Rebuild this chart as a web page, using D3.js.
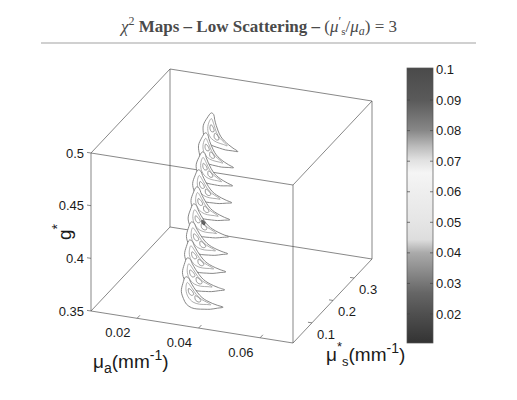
<!DOCTYPE html>
<html>
<head>
<meta charset="utf-8">
<script src="https://cdnjs.cloudflare.com/ajax/libs/d3/7.8.5/d3.min.js"></script>
<style>
  body { margin: 0; background: #fff; }
  svg text { font-family: "Liberation Sans", Arial, Helvetica, sans-serif; fill: #1a1a1a; }
  text.title { font-family: "Liberation Serif", "DejaVu Serif", serif; }
</style>
</head>
<body>
<div id="chart"></div>
<script>
// axis ranges and ticks
const muaDomain = [0.005, 0.0707];
const musDomain = [0.01, 0.385];
const gDomain = [0.35, 0.5];
const muaTicks = [0.02, 0.04, 0.06];
const musTicks = [0.1, 0.2, 0.3];
const gTicks = [0.35, 0.4, 0.45, 0.5];

// colorbar
const cbDomain = [0.0105, 0.1005];
const cbTicks = [0.02, 0.03, 0.04, 0.05, 0.06, 0.07, 0.08, 0.09, 0.1];
const cbStopValues = [0.0105, 0.0203, 0.0269, 0.0334, 0.04, 0.0443, 0.0508, 0.0597, 0.0662, 0.0705, 0.0748, 0.08, 0.09, 0.1005];
const cbStopGrays  = [0x33, 0x50, 0x66, 0x88, 0xaa, 0xdd, 0xe6, 0xee, 0xf5, 0xe0, 0xbb, 0x88, 0x5a, 0x4a];

// contour slices (constant g), top to bottom
const sliceG   = [0.5, 0.4833, 0.4667, 0.45, 0.4333, 0.4167, 0.4, 0.3833, 0.3667, 0.35];
const tipAMua  = [0.0284, 0.0273, 0.0269, 0.0258, 0.0252, 0.0242, 0.0237, 0.0233, 0.0228, 0.0227];
const tipAMus  = [0.240, 0.227, 0.219, 0.215, 0.216, 0.216, 0.213, 0.210, 0.207, 0.201];
const tipBMua  = [0.0462, 0.0446, 0.0445, 0.0441, 0.0434, 0.0429, 0.0425, 0.0421, 0.0419, 0.0414];
const tipBMus  = [0.106, 0.109, 0.106, 0.108, 0.109, 0.110, 0.112, 0.109, 0.106, 0.106];
const minSlice = 5; // slice holding the chi2 minimum

// crescent contour levels, in local (u along tips, v across) units
const outerContour = [[0, 0], [0.04, 0.14], [0.12, 0.29], [0.25, 0.38], [0.37, 0.43], [0.5, 0.42],
  [0.6, 0.37], [0.72, 0.28], [0.82, 0.2], [0.92, 0.09], [1, 0], [0.88, 0.045], [0.775, 0.08],
  [0.65, 0.11], [0.535, 0.12], [0.4, 0.1], [0.276, 0.066], [0.15, 0.02], [0.06, -0.02]];
const middleContour = [[0.1, 0.07], [0.17, 0.2], [0.3, 0.29], [0.45, 0.31], [0.58, 0.26],
  [0.7, 0.17], [0.77, 0.12], [0.68, 0.13], [0.55, 0.155], [0.4, 0.145], [0.25, 0.1]];
const innerContours = [
  [[0.2, 0.15], [0.25, 0.21], [0.33, 0.225], [0.36, 0.18], [0.29, 0.145]],
  [[0.4, 0.18], [0.46, 0.245], [0.54, 0.235], [0.56, 0.19], [0.48, 0.165]]
];
const minContour = [[0.36, 0.13], [0.4, 0.17], [0.46, 0.165], [0.45, 0.125], [0.39, 0.112]];

const W = 517, H = 400;
const svg = d3.select("#chart").append("svg").attr("width", W).attr("height", H);

// 3D box projection: origin and screen vectors of the three axes
const origin = [91, 311];
const vecA = [202, 32], vecS = [79, -84], vecZ = [0, -158];
const aScale = d3.scaleLinear().domain(muaDomain).range([0, 1]);
const sScale = d3.scaleLinear().domain(musDomain).range([0, 1]);
const zScale = d3.scaleLinear().domain(gDomain).range([0, 1]);
function project(mua, mus, g) {
  const a = aScale(mua), s = sScale(mus), z = zScale(g);
  return [origin[0] + a * vecA[0] + s * vecS[0] + z * vecZ[0],
          origin[1] + a * vecA[1] + s * vecS[1] + z * vecZ[1]];
}

// box edges
const boxG = svg.append("g").attr("stroke", "#555").attr("stroke-width", 0.7).attr("fill", "none");
const ends = [0, 1];
const corner = (i, j, k) => project(muaDomain[i], musDomain[j], gDomain[k]);
const edges = [];
ends.forEach(j => ends.forEach(k => edges.push([corner(0, j, k), corner(1, j, k)])));
ends.forEach(i => ends.forEach(k => edges.push([corner(i, 0, k), corner(i, 1, k)])));
ends.forEach(i => ends.forEach(j => edges.push([corner(i, j, 0), corner(i, j, 1)])));
boxG.selectAll("line").data(edges).join("line")
  .attr("x1", d => d[0][0]).attr("y1", d => d[0][1])
  .attr("x2", d => d[1][0]).attr("y2", d => d[1][1]);

// ticks and tick labels
const tickG = svg.append("g");
gTicks.forEach(t => {
  const p = project(muaDomain[0], musDomain[0], t);
  tickG.append("line").attr("x1", p[0]).attr("y1", p[1]).attr("x2", p[0] - 4).attr("y2", p[1] - 0.6)
    .attr("stroke", "#555").attr("stroke-width", 0.7);
  tickG.append("text").attr("x", p[0] - 7).attr("y", p[1] + 4.6).attr("text-anchor", "end")
    .attr("font-size", 13).text(t);
});
muaTicks.forEach(t => {
  const p = project(t, musDomain[0], gDomain[0]);
  tickG.append("line").attr("x1", p[0]).attr("y1", p[1]).attr("x2", p[0] + 2.8).attr("y2", p[1] - 3)
    .attr("stroke", "#555").attr("stroke-width", 0.7);
  tickG.append("text").attr("x", p[0] - 19.3).attr("y", p[1] + 18.8).attr("text-anchor", "middle")
    .attr("font-size", 13).text(t);
});
musTicks.forEach(t => {
  const p = project(muaDomain[1], t, gDomain[0]);
  tickG.append("line").attr("x1", p[0]).attr("y1", p[1]).attr("x2", p[0] - 4).attr("y2", p[1] - 0.6)
    .attr("stroke", "#555").attr("stroke-width", 0.7);
  tickG.append("text").attr("x", p[0] + 14).attr("y", p[1] + 15.8).attr("text-anchor", "middle")
    .attr("font-size", 13).text(t);
});

// axis titles
const gl = svg.append("text").attr("transform", "translate(71,240) rotate(-90)").attr("font-size", 19);
gl.append("tspan").text("g");
gl.append("tspan").attr("font-size", 14).attr("dy", -9).text("*");

const al = svg.append("text").attr("x", 93).attr("y", 368).attr("font-size", 19);
al.append("tspan").text("μ");
al.append("tspan").attr("font-size", 14).attr("dy", 5).text("a");
al.append("tspan").attr("dy", -5).text("(mm");
al.append("tspan").attr("font-size", 14).attr("dy", -8).text("-1");
al.append("tspan").attr("dy", 8).text(")");

const sl = svg.append("text").attr("x", 326).attr("y", 361).attr("font-size", 19);
sl.append("tspan").text("μ");
sl.append("tspan").attr("font-size", 13).attr("dy", -10).text("*");
sl.append("tspan").attr("font-size", 13).attr("dy", 15).text("s");
sl.append("tspan").attr("dy", -5).text("(mm");
sl.append("tspan").attr("font-size", 14).attr("dy", -8).text("-1");
sl.append("tspan").attr("dy", 8).text(")");

// contour slices
const contourLine = d3.line().curve(d3.curveCatmullRomClosed.alpha(0.5));
const slicesG = svg.append("g").attr("fill", "none");
sliceG.forEach((g, i) => {
  const pA = project(tipAMua[i], tipAMus[i], g);
  const pB = project(tipBMua[i], tipBMus[i], g);
  const dx = pB[0] - pA[0], dy = pB[1] - pA[1];
  const toScreen = pts => pts.map(([u, v]) => [pA[0] + u * dx - v * dy, pA[1] + u * dy + v * dx]);
  const grp = slicesG.append("g");
  grp.append("path").attr("d", contourLine(toScreen(outerContour))).attr("fill", "#fff")
    .attr("stroke", "#7a7a7a").attr("stroke-width", 0.9);
  grp.append("path").attr("d", contourLine(toScreen(middleContour)))
    .attr("stroke", "#939393").attr("stroke-width", 0.75);
  innerContours.forEach(c => {
    grp.append("path").attr("d", contourLine(toScreen(c)))
      .attr("stroke", "#707070").attr("stroke-width", 0.7);
  });
  if (i === minSlice) {
    grp.append("path").attr("d", contourLine(toScreen(minContour)))
      .attr("fill", "#666").attr("stroke", "#444").attr("stroke-width", 0.7);
  }
});

// colorbar
const cbX = 407, cbW = 26;
const cbScale = d3.scaleLinear().domain(cbDomain).range([343, 68]);
const grad = svg.append("defs").append("linearGradient").attr("id", "cbgrad")
  .attr("x1", 0).attr("y1", 0).attr("x2", 0).attr("y2", 1);
// gradient runs top (high values) to bottom, so stops go in reverse
d3.range(cbStopValues.length - 1, -1, -1).forEach(i => {
  const c = cbStopGrays[i];
  grad.append("stop").attr("offset", (cbScale(cbStopValues[i]) - 68) / 275)
    .attr("stop-color", d3.rgb(c, c, c).formatHex());
});
svg.append("rect").attr("x", cbX).attr("y", cbScale(cbDomain[1])).attr("width", cbW)
  .attr("height", cbScale(cbDomain[0]) - cbScale(cbDomain[1]))
  .attr("fill", "url(#cbgrad)").attr("stroke", "#555").attr("stroke-width", 0.7);
cbTicks.forEach(t => {
  const y = cbScale(t);
  svg.append("line").attr("x1", cbX).attr("x2", cbX + 3).attr("y1", y).attr("y2", y)
    .attr("stroke", "#444").attr("stroke-width", 0.7);
  svg.append("line").attr("x1", cbX + cbW - 3).attr("x2", cbX + cbW).attr("y1", y).attr("y2", y)
    .attr("stroke", "#444").attr("stroke-width", 0.7);
  svg.append("text").attr("x", cbX + cbW + 3).attr("y", y + 4.6).attr("font-size", 13).text(t);
});

// title
const title = svg.append("text").attr("class", "title").attr("x", 259).attr("y", 32)
  .attr("text-anchor", "middle").attr("font-size", 17).style("fill", "#4a4a4a");
title.append("tspan").attr("font-style", "italic").text("χ");
title.append("tspan").attr("font-size", 12).attr("dy", -7).text("2");
title.append("tspan").attr("dy", 7).attr("font-weight", "bold").text(" Maps – Low Scattering – ");
title.append("tspan").text("(");
title.append("tspan").attr("font-style", "italic").text("μ");
title.append("tspan").attr("font-size", 12).attr("dy", -7).text("′");
title.append("tspan").attr("font-size", 11).attr("dy", 10).text("s");
title.append("tspan").attr("dy", -3).text("/");
title.append("tspan").attr("font-style", "italic").text("μ");
title.append("tspan").attr("font-style", "italic").attr("font-size", 12).attr("dy", 3).text("a");
title.append("tspan").attr("dy", -3).text(") = 3");
svg.append("line").attr("x1", 41).attr("x2", 476).attr("y1", 43).attr("y2", 43)
  .attr("stroke", "#d0d0d0").attr("stroke-width", 2);
</script>
</body>
</html>
